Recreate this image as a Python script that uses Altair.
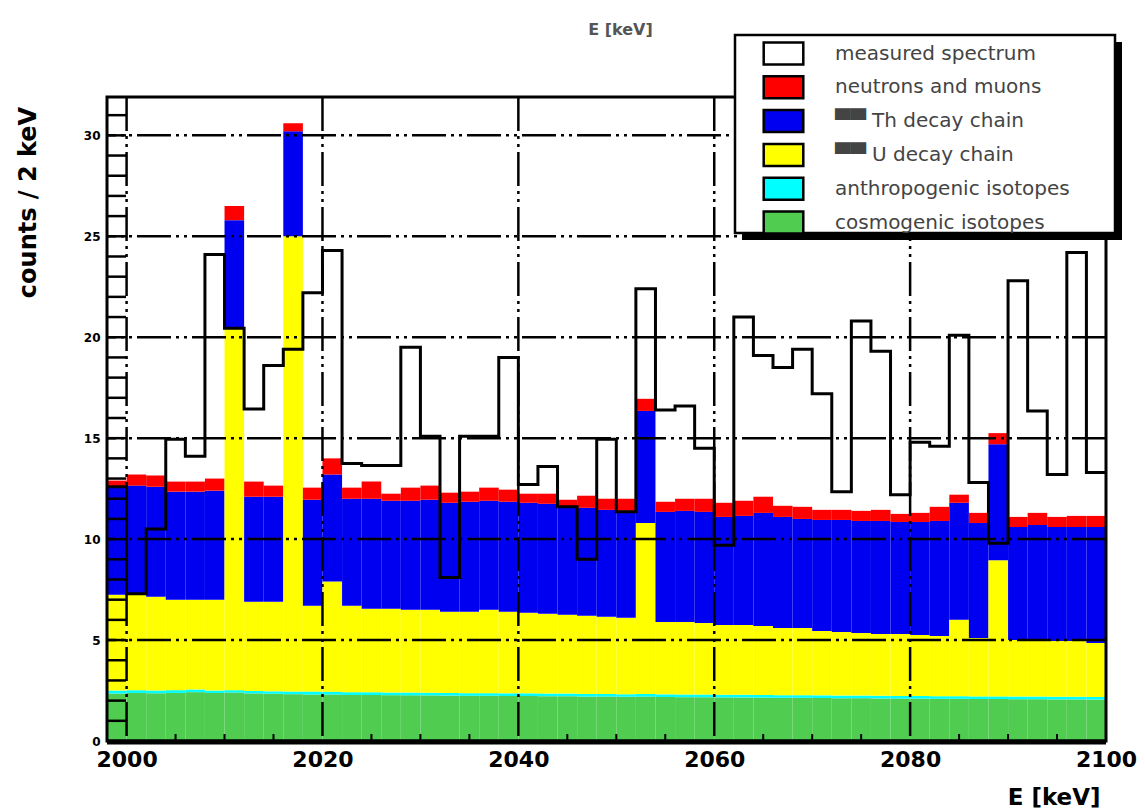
import altair as alt
import pandas as pd

# ---------------- data ----------------
bin_start = [1998 + 2 * i for i in range(51)]   # 2 keV bins, 1998 ... 2098
bin_width = 2

green_top = [2.35, 2.38, 2.36, 2.38, 2.42, 2.38, 2.40, 2.36, 2.34, 2.32,
             2.30, 2.30, 2.28, 2.28, 2.27, 2.26, 2.26, 2.25, 2.24, 2.24,
             2.23, 2.23, 2.22, 2.22, 2.20, 2.20, 2.19, 2.20, 2.18, 2.17,
             2.17, 2.16, 2.16, 2.15, 2.14, 2.14, 2.13, 2.12, 2.12, 2.11,
             2.10, 2.10, 2.09, 2.09, 2.08, 2.08, 2.07, 2.07, 2.06, 2.06,
             2.05]
cyan_top = [2.50, 2.52, 2.50, 2.52, 2.55, 2.50, 2.52, 2.48, 2.46, 2.45,
            2.45, 2.44, 2.42, 2.42, 2.40, 2.40, 2.39, 2.38, 2.37, 2.37,
            2.36, 2.36, 2.35, 2.35, 2.33, 2.33, 2.32, 2.33, 2.31, 2.30,
            2.30, 2.29, 2.29, 2.28, 2.27, 2.27, 2.26, 2.25, 2.25, 2.24,
            2.23, 2.23, 2.22, 2.22, 2.21, 2.21, 2.20, 2.20, 2.19, 2.19,
            2.18]
yellow_top = [7.25, 7.30, 7.15, 7.00, 7.00, 7.00, 20.45, 6.90, 6.90, 25.00,
              6.70, 7.90, 6.70, 6.55, 6.55, 6.50, 6.50, 6.40, 6.40, 6.50,
              6.40, 6.35, 6.30, 6.25, 6.20, 6.15, 6.10, 10.80, 5.90, 5.90,
              5.85, 5.75, 5.75, 5.70, 5.60, 5.60, 5.45, 5.40, 5.35, 5.30,
              5.30, 5.25, 5.20, 6.00, 5.10, 8.95, 5.00, 5.00, 4.95, 4.95,
              4.85]
blue_top = [12.55, 12.65, 12.60, 12.35, 12.35, 12.40, 25.80, 12.10, 12.10, 30.20,
            11.95, 13.20, 12.00, 12.00, 11.90, 11.90, 11.95, 11.80, 11.85, 11.90,
            11.85, 11.80, 11.75, 11.60, 11.55, 11.45, 11.40, 16.35, 11.35, 11.40,
            11.35, 11.10, 11.15, 11.30, 11.10, 11.00, 10.95, 10.95, 10.90, 10.90,
            10.85, 10.85, 10.90, 11.80, 10.80, 14.70, 10.60, 10.70, 10.60, 10.60,
            10.60]
red_top = [12.90, 13.20, 13.15, 12.85, 12.85, 13.00, 26.50, 12.85, 12.65, 30.60,
           12.55, 14.00, 12.55, 12.85, 12.25, 12.55, 12.65, 12.30, 12.35, 12.55,
           12.45, 12.25, 12.25, 11.95, 12.15, 12.00, 12.00, 16.95, 11.85, 12.00,
           12.00, 11.80, 11.90, 12.10, 11.65, 11.60, 11.45, 11.45, 11.40, 11.45,
           11.25, 11.30, 11.60, 12.20, 11.30, 15.25, 11.10, 11.30, 11.10, 11.15,
           11.15]
measured = [12.60, 7.30, 10.50, 14.95, 14.10, 24.10, 20.45, 16.45, 18.60, 19.40,
            22.20, 24.30, 13.75, 13.65, 13.65, 19.50, 15.10, 8.10, 15.10, 15.10,
            19.00, 12.70, 13.60, 11.60, 9.00, 14.95, 11.35, 22.40, 16.40, 16.60,
            14.50, 9.70, 21.00, 19.10, 18.50, 19.40, 17.20, 12.35, 20.80, 19.30,
            12.20, 14.80, 14.60, 20.10, 12.80, 9.80, 22.80, 16.35, 13.20, 24.20,
            13.30]

legend_names = ["measured spectrum", "neutrons and muons", "Th decay chain",
                "U decay chain", "anthropogenic isotopes", "cosmogenic isotopes"]
legend_colors = ["#ffffff", "#ff0000", "#0000f0", "#ffff00", "#00ffff", "#50cc50"]

x_labels = [2000, 2020, 2040, 2060, 2080, 2100]
x_grid = [2000, 2020, 2040, 2060, 2080]
x_minor = [2005, 2010, 2015, 2025, 2030, 2035, 2045, 2050, 2055,
           2065, 2070, 2075, 2085, 2090, 2095]
y_labels = [0, 5, 10, 15, 20, 25, 30]
y_grid = [5, 10, 15, 20, 25, 30]
y_minor = list(range(1, 32))

# ---------------- tables ----------------
stack_order = ["cosmogenic isotopes", "anthropogenic isotopes", "U decay chain",
               "Th decay chain", "neutrons and muons"]
stack_tops = [green_top, cyan_top, yellow_top, blue_top, red_top]
rows = []
for i, s in enumerate(bin_start):
    lo = 0.0
    for name, tops in zip(stack_order, stack_tops):
        hi = tops[i]
        rows.append({"x0": s, "x1": s + bin_width, "lo": lo, "hi": hi, "comp": name})
        lo = hi
bars_df = pd.DataFrame(rows)

meas_df = pd.DataFrame({"e": bin_start + [bin_start[-1] + bin_width],
                        "c": measured + [measured[-1]]})
one = pd.DataFrame({"k": [0]})

W, H = 999, 644
xs = alt.Scale(domain=[1998, 2100], nice=False, zero=False)
ys = alt.Scale(domain=[0, 31.9], nice=False, zero=False)
XT = "E [keV]"
YT = "counts / 2 keV"
DASH = [34, 5, 3, 5, 3, 5]
FONT = "DejaVu Sans"

xaxis = alt.Axis(values=x_labels, format="d", labelFont=FONT,
                 labelFontWeight="bold", labelFontSize=22, labelColor="black",
                 labelPadding=8, labelFlush=False, labelOverlap=False,
                 ticks=False, domain=False, grid=False,
                 titleFont=FONT, titleFontWeight="bold", titleFontSize=23,
                 titleColor="black", titleX=993, titleY=56,
                 titleAlign="right", titleBaseline="middle")
yaxis = alt.Axis(values=y_labels, format="d", labelFont=FONT,
                 labelFontWeight="bold", labelFontSize=12, labelColor="black",
                 labelPadding=7, labelOverlap=False, ticks=False,
                 domain=False, grid=False,
                 titleFont=FONT, titleFontWeight="bold", titleFontSize=24,
                 titleColor="black", titleX=-79, titleY=105, titleAngle=270,
                 titleAlign="center", titleBaseline="middle")

legend = alt.Legend(
    title=None, orient="none", legendX=664, legendY=-56, direction="vertical",
    symbolType="M-1.8,-1H1.8V1H-1.8Z", symbolSize=484,
    symbolStrokeColor="black", symbolStrokeWidth=2.5, symbolOpacity=1,
    labelFont=FONT, labelFontSize=20, labelColor="#444444", labelOffset=39,
    labelLimit=500, rowPadding=0.8, padding=0, zindex=1,
    labelExpr="(datum.label == 'Th decay chain' || datum.label == 'U decay chain') ? '\u2580\u2580 ' + datum.label : datum.label",
)

bars = alt.Chart(bars_df).mark_rect(clip=True).encode(
    x=alt.X("x0:Q", scale=xs, title=XT, axis=xaxis),
    x2="x1:Q",
    y=alt.Y("lo:Q", scale=ys, title=YT, axis=yaxis),
    y2="hi:Q",
    color=alt.Color("comp:N", scale=alt.Scale(domain=legend_names, range=legend_colors),
                    legend=legend),
)

hgrid = alt.Chart(pd.DataFrame({"v": y_grid})).mark_rule(
    color="black", strokeWidth=2.5, strokeDash=DASH).encode(
    y=alt.Y("v:Q", scale=ys, axis=yaxis, title=YT))
vgrid = alt.Chart(pd.DataFrame({"v": x_grid})).mark_rule(
    color="black", strokeWidth=2.5, strokeDash=DASH).encode(
    x=alt.X("v:Q", scale=xs, axis=xaxis, title=XT))
ladder = alt.Chart(pd.DataFrame({"v": y_minor})).mark_rule(
    color="black", strokeWidth=2.5).encode(
    y=alt.Y("v:Q", scale=ys, axis=yaxis, title=YT), x=alt.value(0), x2=alt.value(19))
bticks = alt.Chart(pd.DataFrame({"v": x_minor})).mark_rule(
    color="black", strokeWidth=2).encode(
    x=alt.X("v:Q", scale=xs, axis=xaxis, title=XT), y=alt.value(H), y2=alt.value(H - 7))
meas = alt.Chart(meas_df).mark_line(
    interpolate="step-after", color="black", strokeWidth=3).encode(
    x=alt.X("e:Q", scale=xs, axis=xaxis, title=XT),
    y=alt.Y("c:Q", scale=ys, axis=yaxis, title=YT))
frame = alt.Chart(one).mark_rect(fill="transparent", stroke="black", strokeWidth=3).encode(
    x=alt.value(0), x2=alt.value(W), y=alt.value(0), y2=alt.value(H))
bottom = alt.Chart(one).mark_rule(color="black", strokeWidth=5).encode(
    x=alt.value(0), x2=alt.value(W), y=alt.value(H + 1))
shadow = alt.Chart(one).mark_rect(color="black").encode(
    x=alt.value(635), x2=alt.value(1015), y=alt.value(-55), y2=alt.value(143))
box = alt.Chart(one).mark_rect(fill="white", stroke="black", strokeWidth=2.5).encode(
    x=alt.value(628), x2=alt.value(1008), y=alt.value(-62), y2=alt.value(136))

chart = alt.layer(bars, hgrid, vgrid, ladder, bticks, meas, frame, bottom, shadow, box).properties(
    width=W, height=H,
    padding={"left": 107, "top": 97, "right": 39, "bottom": 71},
    autosize=alt.AutoSizeParams(type="none"),
    title=alt.TitleParams(text="E [keV]", font=FONT, fontWeight="bold", fontSize=16,
                          color="#555555", anchor="middle", frame="group",
                          offset=8, dx=14, dy=12),
).configure(background="white").configure_view(stroke=None)

chart.save("out.html", embed_options={"renderer": "svg", "actions": False})
